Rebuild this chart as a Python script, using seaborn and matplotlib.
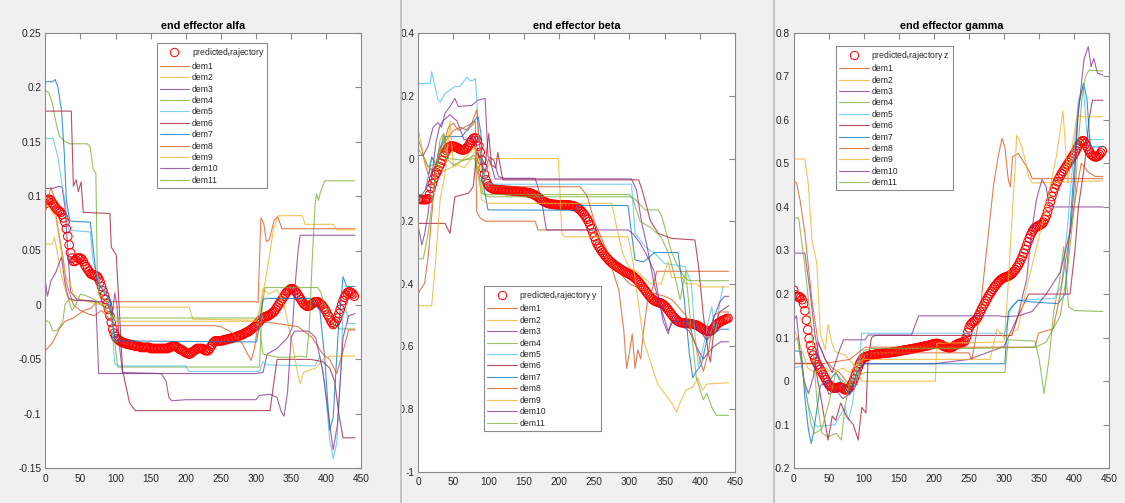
import matplotlib
matplotlib.use("Agg")
import matplotlib.pyplot as plt
from matplotlib.lines import Line2D
from matplotlib.patches import Rectangle
import pandas as pd
import seaborn as sns

# ---------------------------------------------------------------- data
sample_x = list(range(0, 441, 2))

alfa_predicted = [
    0.093, 0.096, 0.097, 0.097, 0.096, 0.094, 0.092, 0.090, 0.088, 0.087,
    0.086, 0.085, 0.083, 0.080, 0.076, 0.070, 0.063, 0.055, 0.048, 0.043,
    0.040, 0.040, 0.041, 0.043, 0.043, 0.043, 0.042, 0.040, 0.037, 0.035,
    0.033, 0.031, 0.029, 0.028, 0.028, 0.027, 0.027, 0.026, 0.024, 0.021,
    0.017, 0.013, 0.009, 0.005, 0.001, -0.004, -0.010, -0.016, -0.022, -0.026,
    -0.029, -0.031, -0.032, -0.033, -0.034, -0.034, -0.035, -0.035, -0.036, -0.036,
    -0.036, -0.037, -0.037, -0.037, -0.038, -0.038, -0.038, -0.038, -0.039, -0.039,
    -0.039, -0.039, -0.039, -0.039, -0.039, -0.040, -0.040, -0.040, -0.040, -0.040,
    -0.040, -0.040, -0.040, -0.040, -0.040, -0.040, -0.040, -0.040, -0.039, -0.039,
    -0.038, -0.038, -0.038, -0.038, -0.039, -0.040, -0.041, -0.041, -0.042, -0.043,
    -0.044, -0.044, -0.045, -0.045, -0.044, -0.043, -0.042, -0.041, -0.040, -0.040,
    -0.040, -0.040, -0.040, -0.041, -0.042, -0.042, -0.042, -0.040, -0.038, -0.036,
    -0.034, -0.033, -0.033, -0.033, -0.033, -0.033, -0.033, -0.032, -0.032, -0.032,
    -0.031, -0.031, -0.031, -0.030, -0.030, -0.030, -0.029, -0.029, -0.028, -0.028,
    -0.027, -0.027, -0.026, -0.025, -0.025, -0.024, -0.023, -0.022, -0.021, -0.020,
    -0.019, -0.017, -0.016, -0.014, -0.013, -0.012, -0.011, -0.011, -0.010, -0.010,
    -0.009, -0.008, -0.007, -0.006, -0.004, -0.002, 0.000, 0.002, 0.004, 0.006,
    0.008, 0.010, 0.012, 0.013, 0.014, 0.015, 0.015, 0.014, 0.013, 0.011,
    0.009, 0.007, 0.005, 0.003, 0.001, 0.000, -0.001, -0.001, -0.001, 0.000,
    0.001, 0.002, 0.003, 0.003, 0.003, 0.002, 0.001, 0.000, -0.002, -0.004,
    -0.006, -0.009, -0.011, -0.014, -0.016, -0.018, -0.017, -0.015, -0.012, -0.008,
    -0.004, 0.000, 0.004, 0.007, 0.009, 0.011, 0.012, 0.012, 0.011, 0.010,
    0.008,
]

beta_predicted = [
    -0.130, -0.130, -0.131, -0.131, -0.131, -0.131, -0.131, -0.128, -0.115, -0.095,
    -0.080, -0.065, -0.052, -0.045, -0.036, -0.025, -0.015, -0.005, 0.008, 0.018,
    0.026, 0.033, 0.038, 0.040, 0.040, 0.039, 0.038, 0.036, 0.034, 0.031,
    0.029, 0.028, 0.027, 0.029, 0.032, 0.037, 0.043, 0.051, 0.058, 0.064,
    0.066, 0.064, 0.057, 0.040, 0.020, -0.005, -0.030, -0.050, -0.068, -0.080,
    -0.088, -0.092, -0.095, -0.097, -0.098, -0.099, -0.099, -0.100, -0.100, -0.101,
    -0.101, -0.101, -0.102, -0.102, -0.102, -0.102, -0.103, -0.103, -0.104, -0.104,
    -0.104, -0.105, -0.105, -0.106, -0.106, -0.107, -0.107, -0.108, -0.109, -0.110,
    -0.111, -0.113, -0.115, -0.117, -0.120, -0.123, -0.127, -0.131, -0.134, -0.137,
    -0.139, -0.141, -0.143, -0.144, -0.145, -0.146, -0.146, -0.147, -0.147, -0.147,
    -0.148, -0.148, -0.148, -0.148, -0.148, -0.148, -0.148, -0.149, -0.149, -0.150,
    -0.151, -0.152, -0.154, -0.157, -0.160, -0.164, -0.169, -0.174, -0.180, -0.187,
    -0.194, -0.202, -0.212, -0.224, -0.237, -0.250, -0.262, -0.272, -0.280, -0.287,
    -0.294, -0.300, -0.306, -0.312, -0.317, -0.322, -0.327, -0.331, -0.335, -0.339,
    -0.342, -0.345, -0.348, -0.351, -0.354, -0.357, -0.360, -0.362, -0.365, -0.367,
    -0.369, -0.372, -0.375, -0.378, -0.382, -0.386, -0.391, -0.396, -0.402, -0.408,
    -0.414, -0.420, -0.426, -0.432, -0.438, -0.443, -0.448, -0.452, -0.455, -0.457,
    -0.458, -0.460, -0.461, -0.463, -0.466, -0.470, -0.475, -0.480, -0.486, -0.492,
    -0.498, -0.504, -0.509, -0.514, -0.518, -0.521, -0.523, -0.524, -0.525, -0.525,
    -0.526, -0.526, -0.527, -0.527, -0.528, -0.529, -0.530, -0.531, -0.533, -0.535,
    -0.538, -0.541, -0.544, -0.547, -0.549, -0.551, -0.552, -0.552, -0.550, -0.546,
    -0.540, -0.535, -0.530, -0.526, -0.523, -0.520, -0.518, -0.516, -0.514, -0.512,
    -0.510,
]

gamma_predicted = [
    0.209, 0.198, 0.194, 0.194, 0.194, 0.192, 0.187, 0.178, 0.162, 0.140,
    0.118, 0.098, 0.082, 0.070, 0.060, 0.051, 0.044, 0.038, 0.032, 0.027,
    0.021, 0.015, 0.009, 0.003, -0.003, -0.008, -0.011, -0.013, -0.015, -0.016,
    -0.016, -0.015, -0.014, -0.013, -0.014, -0.016, -0.019, -0.020, -0.020, -0.018,
    -0.014, -0.009, -0.003, 0.005, 0.014, 0.023, 0.032, 0.040, 0.046, 0.051,
    0.054, 0.056, 0.057, 0.058, 0.059, 0.060, 0.060, 0.061, 0.062, 0.062,
    0.063, 0.063, 0.063, 0.064, 0.064, 0.064, 0.065, 0.065, 0.065, 0.066,
    0.066, 0.067, 0.067, 0.068, 0.068, 0.069, 0.069, 0.070, 0.071, 0.071,
    0.072, 0.072, 0.073, 0.074, 0.074, 0.075, 0.075, 0.076, 0.077, 0.077,
    0.078, 0.079, 0.079, 0.080, 0.081, 0.081, 0.082, 0.083, 0.084, 0.085,
    0.086, 0.086, 0.087, 0.086, 0.085, 0.084, 0.082, 0.080, 0.079, 0.078,
    0.077, 0.077, 0.077, 0.078, 0.080, 0.082, 0.084, 0.086, 0.087, 0.088,
    0.089, 0.090, 0.092, 0.100, 0.112, 0.122, 0.129, 0.133, 0.136, 0.138,
    0.141, 0.146, 0.152, 0.159, 0.166, 0.172, 0.178, 0.184, 0.190, 0.196,
    0.201, 0.206, 0.211, 0.216, 0.220, 0.224, 0.228, 0.231, 0.234, 0.236,
    0.238, 0.239, 0.240, 0.241, 0.243, 0.245, 0.248, 0.252, 0.256, 0.261,
    0.266, 0.272, 0.279, 0.286, 0.294, 0.302, 0.311, 0.320, 0.328, 0.336,
    0.343, 0.348, 0.352, 0.354, 0.356, 0.357, 0.359, 0.361, 0.365, 0.371,
    0.379, 0.389, 0.400, 0.412, 0.424, 0.434, 0.443, 0.451, 0.458, 0.465,
    0.471, 0.477, 0.482, 0.487, 0.492, 0.497, 0.502, 0.507, 0.512, 0.517,
    0.522, 0.528, 0.535, 0.541, 0.546, 0.550, 0.552, 0.551, 0.546, 0.539,
    0.532, 0.526, 0.521, 0.518, 0.516, 0.515, 0.515, 0.517, 0.520, 0.524,
    0.529,
]

# demonstration recordings, (sample, value) vertices
alfa_dem1 = [(0, -0.042), (10, -0.035), (20, -0.022), (28, -0.015), (40, -0.012), (55, -0.005),
             (65, -0.003), (72, 0.002), (80, 0.003), (300, 0.003), (303, 0.002), (307, 0.080),
             (311, 0.075), (315, 0.058), (319, 0.060), (326, 0.078), (331, 0.081), (337, 0.070),
             (441, 0.070)]
alfa_dem2 = [(0, 0.056), (10, 0.056), (13, 0.062), (16, 0.052), (22, 0.030), (30, 0.010),
             (36, 0.004), (60, 0.004), (75, 0.002), (90, -0.001), (100, -0.002), (205, -0.002),
             (210, -0.013), (300, -0.014), (305, -0.010), (310, 0.010), (318, 0.040), (325, 0.070),
             (332, 0.082), (366, 0.082), (370, 0.074), (410, 0.074), (415, 0.069), (441, 0.069)]
alfa_dem3 = [(0, 0.107), (10, 0.107), (20, 0.109), (24, 0.108), (28, 0.090), (32, 0.050),
             (36, 0.012), (45, 0.005), (60, 0.004), (72, 0.003), (76, -0.063), (300, -0.063),
             (310, -0.062), (316, -0.045), (330, -0.040), (345, -0.030), (352, -0.020),
             (356, 0.020), (360, 0.050), (363, 0.064), (441, 0.064)]
alfa_dem4 = [(0, 0.197), (5, 0.195), (10, 0.185), (16, 0.165), (20, 0.155), (28, 0.150),
             (35, 0.148), (60, 0.148), (64, 0.145), (68, 0.125), (72, 0.121), (74, 0.030),
             (76, 0.010), (85, 0.005), (95, -0.005), (100, -0.040), (103, -0.057), (305, -0.057),
             (309, 0.000), (313, 0.016), (388, 0.016), (392, 0.012), (398, 0.000), (405, -0.010),
             (412, -0.020), (420, -0.022), (441, -0.022)]
alfa_dem5 = [(0, 0.153), (11, 0.153), (18, 0.136), (24, 0.110), (28, 0.096), (33, 0.069),
             (45, 0.068), (64, 0.067), (68, 0.040), (78, 0.020), (90, 0.006), (95, -0.020),
             (99, -0.054), (104, -0.056), (200, -0.056), (204, -0.061), (305, -0.061),
             (310, -0.052), (315, -0.055), (384, -0.056), (391, -0.047), (398, -0.072),
             (405, -0.124), (410, -0.141), (415, -0.127), (420, -0.070), (424, -0.008),
             (429, -0.006), (431, -0.017), (441, -0.017)]
alfa_dem6 = [(0, 0.178), (37, 0.178), (40, 0.109), (44, 0.115), (47, 0.104), (51, 0.113),
             (54, 0.085), (92, 0.084), (94, 0.053), (97, 0.050), (101, 0.046), (105, 0.000),
             (110, -0.060), (120, -0.090), (128, -0.097), (320, -0.097), (330, -0.050),
             (378, -0.050), (395, -0.052), (405, -0.058), (412, -0.070), (418, -0.100),
             (424, -0.122), (441, -0.122)]
alfa_dem7 = [(0, 0.205), (10, 0.205), (14, 0.207), (18, 0.200), (23, 0.179), (27, 0.140),
             (30, 0.096), (35, 0.077), (64, 0.076), (66, 0.066), (73, 0.023), (85, 0.010),
             (92, 0.005), (99, -0.032), (102, -0.033), (301, -0.034), (310, 0.005), (315, 0.006),
             (377, 0.006), (391, -0.005), (398, -0.050), (405, -0.115), (410, -0.103),
             (417, -0.026), (424, 0.026), (429, 0.017), (441, 0.017)]
alfa_dem8 = [(0, 0.085), (5, 0.100), (8, 0.108), (12, 0.100), (18, 0.070), (25, 0.045),
             (30, 0.020), (40, 0.000), (50, -0.005), (60, -0.008), (70, -0.010), (80, -0.005),
             (90, -0.012), (100, -0.018), (102, -0.019), (240, -0.019), (250, -0.020),
             (265, -0.025), (280, -0.035), (288, -0.045), (293, -0.051), (298, -0.040),
             (302, -0.020), (305, -0.015), (330, -0.017), (360, -0.020), (380, -0.030),
             (395, -0.045), (405, -0.050), (415, -0.063), (425, -0.040), (432, -0.023),
             (441, -0.023)]
alfa_dem9 = [(0, 0.092), (5, 0.090), (10, 0.085), (15, 0.080), (20, 0.060), (25, 0.040),
             (30, 0.025), (35, 0.020), (40, 0.010), (50, 0.005), (60, 0.003), (80, 0.000),
             (100, -0.015), (300, -0.015), (305, -0.005), (310, 0.015), (318, 0.010),
             (330, 0.014), (340, 0.000), (350, -0.030), (360, -0.065), (363, -0.072),
             (368, -0.062), (375, -0.060), (385, -0.058), (395, -0.050), (405, -0.047),
             (441, -0.047)]
alfa_dem10 = [(0, 0.022), (3, 0.008), (8, 0.022), (15, 0.030), (23, 0.044), (28, 0.020),
              (33, 0.006), (45, 0.004), (60, 0.004), (80, 0.003), (90, 0.000), (95, -0.010),
              (99, 0.011), (102, 0.000), (106, -0.040), (110, -0.062), (165, -0.063),
              (172, -0.070), (176, -0.085), (180, -0.088), (200, -0.087), (300, -0.087),
              (305, -0.083), (320, -0.082), (330, -0.085), (336, -0.098), (340, -0.102),
              (345, -0.080), (350, -0.030), (355, -0.024), (375, -0.024), (385, -0.030),
              (395, -0.060), (405, -0.110), (410, -0.133), (416, -0.110), (424, -0.030),
              (432, -0.010), (441, -0.008)]
alfa_dem11 = [(0, -0.014), (6, -0.016), (11, -0.024), (18, -0.023), (25, -0.015), (28, 0.000),
              (33, 0.005), (38, -0.005), (43, 0.000), (50, 0.010), (60, 0.008), (70, 0.005),
              (80, 0.000), (95, -0.010), (100, -0.012), (300, -0.012), (305, -0.020),
              (310, -0.045), (330, -0.048), (350, -0.048), (365, -0.047), (372, -0.048),
              (376, -0.020), (380, 0.040), (384, 0.090), (386, 0.102), (389, 0.096),
              (392, 0.104), (398, 0.114), (441, 0.114)]

beta_dem1 = [(0, 0.06), (5, 0.03), (10, -0.02), (14, -0.05), (18, -0.03), (22, -0.06), (26, -0.02),
             (32, 0.02), (40, 0.06), (50, 0.09), (60, 0.10), (70, 0.09), (78, 0.11), (81, 0.12),
             (83, -0.17), (88, -0.19), (95, -0.20), (166, -0.20), (170, -0.228), (246, -0.228),
             (255, -0.25), (265, -0.30), (275, -0.35), (285, -0.42), (292, -0.55), (296, -0.67),
             (300, -0.62), (304, -0.56), (308, -0.67), (312, -0.61), (316, -0.64), (320, -0.55),
             (326, -0.45), (332, -0.42), (339, -0.36), (441, -0.36)]
beta_dem2 = [(0, 0.09), (4, 0.05), (8, 0.00), (14, -0.03), (20, 0.00), (28, -0.02), (36, -0.04),
             (45, -0.03), (55, -0.02), (65, -0.03), (75, 0.00), (82, 0.03), (88, -0.03),
             (95, -0.05), (100, -0.02), (104, 0.00), (199, 0.00), (204, -0.24), (208, -0.25),
             (298, -0.25), (305, -0.33), (312, -0.45), (320, -0.58), (330, -0.65), (340, -0.72),
             (350, -0.75), (360, -0.78), (367, -0.81), (372, -0.78), (380, -0.74), (390, -0.73),
             (397, -0.70), (404, -0.74), (410, -0.72), (441, -0.716)]
beta_dem3 = [(0, 0.01), (7, 0.01), (14, 0.04), (21, 0.10), (28, 0.115), (33, 0.10), (38, 0.145),
             (45, 0.166), (52, 0.192), (57, 0.166), (76, 0.17), (85, 0.187), (95, 0.192),
             (99, 0.006), (107, -0.004), (114, -0.058), (123, -0.063), (166, -0.063),
             (171, -0.10), (175, -0.132), (182, -0.228), (298, -0.228), (305, -0.24),
             (315, -0.27), (325, -0.31), (335, -0.36), (342, -0.45), (348, -0.52), (355, -0.56),
             (362, -0.50), (370, -0.53), (385, -0.55), (395, -0.60), (405, -0.64), (412, -0.62),
             (420, -0.60), (430, -0.585), (441, -0.585)]
beta_dem4 = [(0, 0.03), (9, 0.00), (14, -0.026), (28, -0.015), (36, 0.08), (43, 0.00),
             (62, -0.005), (80, 0.00), (90, -0.111), (99, -0.122), (303, -0.122), (308, -0.13),
             (322, -0.164), (341, -0.164), (346, -0.185), (360, -0.30), (368, -0.34),
             (378, -0.38), (385, -0.39), (441, -0.39)]
beta_dem5 = [(0, 0.24), (17, 0.24), (19, 0.277), (28, 0.187), (31, 0.18), (38, 0.208),
             (52, 0.23), (59, 0.23), (69, 0.26), (73, 0.25), (77, 0.248), (81, 0.256),
             (83, 0.198), (85, 0.08), (90, -0.026), (99, -0.079), (109, -0.082), (303, -0.082),
             (308, -0.239), (322, -0.281), (336, -0.303), (350, -0.335), (379, -0.345),
             (388, -0.40), (393, -0.558), (398, -0.665), (405, -0.60), (412, -0.52),
             (417, -0.473), (422, -0.56), (429, -0.452), (433, -0.409)]
beta_dem6 = [(0, -0.207), (38, -0.207), (45, -0.239), (52, -0.122), (71, -0.111), (78, -0.09),
             (83, 0.02), (90, 0.00), (95, -0.02), (100, 0.08), (104, -0.02), (110, -0.03),
             (113, 0.02), (120, -0.068), (313, -0.068), (318, -0.10), (330, -0.20),
             (341, -0.239), (360, -0.255), (393, -0.26), (398, -0.34), (405, -0.50),
             (412, -0.62), (415, -0.65), (420, -0.55), (428, -0.49), (441, -0.47)]
beta_dem7 = [(0, -0.13), (10, -0.10), (15, -0.05), (19, 0.006), (25, -0.02), (30, 0.03),
             (38, 0.07), (62, 0.07), (76, 0.113), (85, 0.134), (89, 0.08), (92, -0.079),
             (99, -0.164), (223, -0.165), (227, -0.15), (298, -0.15), (303, -0.239),
             (308, -0.324), (320, -0.33), (336, -0.30), (369, -0.30), (378, -0.45),
             (385, -0.62), (390, -0.70), (395, -0.68), (402, -0.66), (410, -0.58),
             (418, -0.56), (430, -0.545), (441, -0.545)]
beta_dem8 = [(0, -0.43), (9, -0.398), (14, -0.313), (19, -0.185), (24, -0.058), (28, 0.017),
             (38, 0.06), (43, 0.102), (50, 0.113), (57, 0.09), (66, 0.10), (76, 0.113),
             (83, 0.155), (88, 0.02), (95, -0.08), (105, -0.09), (230, -0.09), (240, -0.12),
             (250, -0.20), (265, -0.28), (280, -0.35), (300, -0.40), (320, -0.42), (335, -0.43),
             (350, -0.44), (360, -0.45), (380, -0.50), (395, -0.60), (405, -0.68), (412, -0.62),
             (420, -0.50), (430, -0.49), (441, -0.49)]
beta_dem9 = [(0, -0.47), (19, -0.47), (24, -0.345), (31, -0.132), (38, -0.047), (45, 0.12),
             (50, -0.026), (57, -0.015), (70, 0.01), (80, 0.038), (85, -0.02), (90, -0.132),
             (99, -0.143), (275, -0.143), (280, -0.20), (290, -0.30), (300, -0.35), (310, -0.36),
             (320, -0.38), (330, -0.40), (345, -0.40), (355, -0.33), (360, -0.38), (375, -0.38),
             (380, -0.40), (395, -0.40), (400, -0.41), (441, -0.41)]
beta_dem10 = [(0, -0.217), (5, -0.276), (9, -0.24), (14, -0.175), (19, -0.06), (25, 0.05),
              (30, 0.10), (35, 0.12), (45, 0.14), (55, 0.12), (65, 0.06), (80, 0.07),
              (88, -0.01), (95, -0.04), (100, 0.00), (105, -0.03), (109, -0.065), (303, -0.065),
              (310, -0.10), (317, -0.20), (325, -0.28), (335, -0.40), (341, -0.452),
              (348, -0.50), (355, -0.55), (362, -0.52), (390, -0.52), (400, -0.55),
              (410, -0.58), (418, -0.52), (428, -0.46), (435, -0.44), (441, -0.44)]
beta_dem11 = [(0, -0.32), (7, -0.32), (14, -0.24), (24, -0.06), (31, 0.06), (36, 0.08),
              (40, 0.00), (50, -0.02), (60, -0.01), (70, 0.00), (80, 0.01), (86, -0.05),
              (92, -0.11), (98, -0.115), (300, -0.115), (305, -0.13), (315, -0.20), (330, -0.22),
              (345, -0.25), (355, -0.30), (365, -0.38), (372, -0.45), (380, -0.36), (388, -0.55),
              (395, -0.70), (405, -0.77), (410, -0.75), (418, -0.80), (424, -0.82), (441, -0.82)]

gamma_dem1 = [(0, 0.46), (4, 0.455), (9, 0.416), (16, 0.339), (26, 0.186), (35, 0.087),
              (45, 0.05), (55, 0.03), (65, 0.02), (75, 0.00), (85, -0.01), (95, 0.03),
              (100, 0.06), (110, 0.065), (250, 0.065), (254, 0.049), (265, 0.15), (275, 0.30),
              (285, 0.45), (292, 0.52), (297, 0.557), (301, 0.538), (306, 0.462), (309, 0.446),
              (312, 0.515), (320, 0.523), (335, 0.485), (340, 0.465), (441, 0.465)]
gamma_dem2 = [(0, 0.51), (16, 0.51), (21, 0.45), (26, 0.324), (33, 0.27), (38, 0.109),
              (45, 0.072), (49, 0.13), (54, 0.09), (59, 0.068), (73, 0.06), (90, 0.03),
              (97, 0.00), (202, 0.00), (204, 0.087), (300, 0.09), (305, 0.20), (310, 0.34),
              (316, 0.50), (318, 0.565), (325, 0.54), (330, 0.508), (335, 0.47), (340, 0.455),
              (441, 0.46)]
gamma_dem3 = [(0, 0.294), (16, 0.294), (23, 0.209), (30, 0.11), (40, 0.02), (50, -0.03),
              (60, -0.02), (70, -0.04), (80, -0.03), (90, 0.02), (100, 0.04), (200, 0.04),
              (250, 0.05), (300, 0.08), (320, 0.15), (327, 0.20), (332, 0.232), (339, 0.34),
              (346, 0.416), (354, 0.463), (360, 0.446), (365, 0.40), (441, 0.40)]
gamma_dem4 = [(0, 0.375), (7, 0.375), (16, 0.263), (26, 0.11), (33, -0.043), (40, -0.119),
              (49, -0.127), (61, -0.12), (68, -0.135), (73, -0.06), (80, 0.00), (90, 0.01),
              (102, 0.02), (301, 0.02), (306, 0.095), (344, 0.092), (350, 0.05), (357, -0.028),
              (364, 0.05), (371, 0.163), (378, 0.22), (385, 0.309), (392, 0.171), (400, 0.162),
              (441, 0.16)]
gamma_dem5 = [(0, 0.03), (11, 0.035), (20, -0.05), (26, -0.081), (30, -0.10), (35, -0.104),
              (59, -0.10), (73, -0.058), (78, -0.089), (83, -0.058), (90, 0.02), (95, 0.07),
              (97, 0.11), (301, 0.11), (310, 0.171), (320, 0.186), (372, 0.19), (382, 0.22),
              (390, 0.35), (398, 0.50), (406, 0.645), (413, 0.676), (418, 0.569), (423, 0.554),
              (441, 0.555)]
gamma_dem6 = [(0, 0.041), (30, 0.041), (40, -0.05), (49, -0.135), (55, -0.08), (60, -0.09),
              (67, -0.05), (75, -0.08), (85, -0.10), (92, -0.135), (97, -0.06), (103, -0.073),
              (106, 0.05), (111, 0.10), (116, 0.105), (311, 0.105), (320, 0.15), (335, 0.20),
              (394, 0.20), (401, 0.30), (406, 0.40), (415, 0.50), (421, 0.60), (426, 0.645),
              (441, 0.645)]
gamma_dem7 = [(0, 0.07), (11, 0.068), (16, -0.04), (21, -0.112), (25, -0.143), (28, -0.12),
              (38, -0.01), (50, 0.00), (60, 0.02), (70, -0.01), (80, -0.03), (90, 0.02),
              (100, 0.04), (301, 0.04), (306, 0.16), (320, 0.186), (339, 0.182), (377, 0.178),
              (387, 0.20), (396, 0.40), (406, 0.63), (413, 0.684), (418, 0.65), (423, 0.538),
              (441, 0.538)]
gamma_dem8 = [(0, 0.04), (40, 0.04), (60, 0.045), (80, 0.05), (102, 0.078), (344, 0.078),
              (349, 0.11), (356, 0.114), (370, 0.12), (380, 0.20), (390, 0.30), (400, 0.40),
              (404, 0.446), (410, 0.50), (420, 0.48), (430, 0.47), (441, 0.47)]
gamma_dem9 = [(0, 0.12), (6, 0.10), (12, 0.07), (20, 0.03), (30, 0.02), (45, 0.03), (55, 0.02),
              (70, 0.03), (80, 0.02), (90, 0.04), (100, 0.05), (280, 0.05), (290, 0.12),
              (300, 0.10), (320, 0.12), (330, 0.20), (345, 0.30), (360, 0.40), (375, 0.52),
              (384, 0.62), (391, 0.454), (398, 0.55), (404, 0.61), (412, 0.607), (441, 0.607)]
gamma_dem10 = [(0, 0.14), (4, 0.15), (9, 0.07), (15, 0.00), (21, -0.028), (28, 0.01),
               (35, 0.09), (45, 0.05), (55, 0.02), (65, 0.07), (71, 0.095), (102, 0.095),
               (106, 0.106), (168, 0.106), (178, 0.15), (292, 0.15), (300, 0.148), (320, 0.15),
               (340, 0.16), (360, 0.20), (380, 0.25), (395, 0.35), (400, 0.45), (405, 0.60),
               (410, 0.68), (414, 0.74), (420, 0.768), (424, 0.722), (428, 0.741), (433, 0.707),
               (441, 0.703)]
gamma_dem11 = [(0, 0.09), (5, 0.10), (10, 0.05), (15, 0.00), (20, -0.05), (25, -0.10),
               (30, -0.12), (40, -0.11), (50, -0.05), (60, 0.02), (70, 0.00), (80, -0.01),
               (90, 0.03), (100, 0.07), (110, 0.075), (250, 0.075), (345, 0.078), (360, 0.09),
               (380, 0.15), (390, 0.25), (400, 0.40), (406, 0.55), (411, 0.65), (416, 0.70),
               (421, 0.714), (441, 0.712)]

dem_names = [f"dem{i}" for i in range(1, 12)]
dem_colors = ["#D95319", "#EDB120", "#7E2F8E", "#77AC30", "#4DBEEE", "#A2142F",
              "#0072BD", "#D95319", "#EDB120", "#7E2F8E", "#77AC30"]

x_ticks = [0, 50, 100, 150, 200, 250, 300, 350, 400, 450]
alfa_yticks = [-0.15, -0.1, -0.05, 0, 0.05, 0.1, 0.15, 0.2, 0.25]
beta_yticks = [-1, -0.8, -0.6, -0.4, -0.2, 0, 0.2, 0.4]
gamma_yticks = [-0.2, -0.1, 0, 0.1, 0.2, 0.3, 0.4, 0.5, 0.6, 0.7, 0.8]

panels = [
    dict(title="end effector alfa", pred=alfa_predicted,
         dems=[alfa_dem1, alfa_dem2, alfa_dem3, alfa_dem4, alfa_dem5, alfa_dem6,
               alfa_dem7, alfa_dem8, alfa_dem9, alfa_dem10, alfa_dem11],
         pred_label=r"predicted$_{\mathregular{t}}$rajectory",
         yticks=alfa_yticks, ylim=(-0.15, 0.25),
         rect=(45.3, 32.7, 361.3, 468.3), legend_at=(156.7, 43.3)),
    dict(title="end effector beta", pred=beta_predicted,
         dems=[beta_dem1, beta_dem2, beta_dem3, beta_dem4, beta_dem5, beta_dem6,
               beta_dem7, beta_dem8, beta_dem9, beta_dem10, beta_dem11],
         pred_label=r"predicted$_{\mathregular{t}}$rajectory y",
         yticks=beta_yticks, ylim=(-1, 0.4),
         rect=(418.3, 33.3, 735.0, 471.7), legend_at=(484.3, 286.0)),
    dict(title="end effector gamma", pred=gamma_predicted,
         dems=[gamma_dem1, gamma_dem2, gamma_dem3, gamma_dem4, gamma_dem5, gamma_dem6,
               gamma_dem7, gamma_dem8, gamma_dem9, gamma_dem10, gamma_dem11],
         pred_label=r"predicted$_{\mathregular{t}}$rajectory z",
         yticks=gamma_yticks, ylim=(-0.2, 0.8),
         rect=(793.7, 32.7, 1109.3, 468.3), legend_at=(836.3, 45.7)),
]

# ---------------------------------------------------------------- style
sns.set_theme(style="white")
plt.rcParams["font.family"] = ["Liberation Sans", "DejaVu Sans"]
plt.rcParams["mathtext.fontset"] = "custom"
plt.rcParams["mathtext.rm"] = "Liberation Sans"
plt.rcParams["mathtext.it"] = "Liberation Sans"

W, H = 1125, 503
fig = plt.figure(figsize=(W / 100, H / 100), dpi=100, facecolor="#f0f0f0")

axis_grey = "#8a8a8a"
palette = dict(zip(dem_names, dem_colors))


def fmt(v):
    return f"{v:g}"


for p in panels:
    x0, y0, x1, y1 = p["rect"]
    ax = fig.add_axes([x0 / W, 1 - y1 / H, (x1 - x0) / W, (y1 - y0) / H])
    ax.set_facecolor("white")

    # predicted trajectory: open red circles
    sns.scatterplot(x=sample_x, y=p["pred"], ax=ax, marker="o", s=38,
                    linewidth=0.75, legend=False, zorder=1.5)
    coll = ax.collections[-1]
    coll.set_facecolor("none")
    coll.set_edgecolor("#ff0000")

    # demonstrations
    rows = []
    for name, verts in zip(dem_names, p["dems"]):
        for i, (xv, yv) in enumerate(verts):
            rows.append((name, i, xv, yv))
    df = pd.DataFrame(rows, columns=["series", "order", "x", "y"])
    sns.lineplot(data=df, x="x", y="y", hue="series", hue_order=dem_names,
                 palette=palette, estimator=None, sort=False, legend=False,
                 linewidth=0.8, alpha=0.75, ax=ax, zorder=2)

    ax.set_xlim(0, 450)
    ax.set_ylim(*p["ylim"])
    ax.set_xticks(x_ticks)
    ax.set_xticklabels([fmt(v) for v in x_ticks])
    ax.set_yticks(p["yticks"])
    ax.set_yticklabels([fmt(v) for v in p["yticks"]])
    ax.set_xlabel("")
    ax.set_ylabel("")
    ax.tick_params(direction="in", length=4, width=0.8, top=True, right=True,
                   color=axis_grey, labelcolor="#262626", labelsize=7.3)
    ax.tick_params(axis="x", pad=4)
    ax.tick_params(axis="y", pad=3)
    for sp in ax.spines.values():
        sp.set_color(axis_grey)
        sp.set_linewidth(0.8)
    ax.set_title(p["title"], fontsize=7.8, fontweight="bold", pad=3, color="black")

    handles = [Line2D([], [], marker="o", ls="none", mfc="none", mec="#ff0000",
                      ms=6, mew=0.7)]
    handles += [Line2D([], [], color=c, lw=0.8, alpha=0.75) for c in dem_colors]
    labels = [p["pred_label"]] + dem_names
    lx, ly = p["legend_at"]
    leg = ax.legend(handles, labels, loc="upper left",
                    bbox_to_anchor=(lx / W, 1 - ly / H), bbox_transform=fig.transFigure,
                    borderaxespad=0, fontsize=6.2, frameon=True, fancybox=False,
                    edgecolor=axis_grey, framealpha=1, facecolor="white",
                    handlelength=3.4, handletextpad=0.3, labelspacing=0.28,
                    borderpad=0.35, numpoints=1)
    leg.get_frame().set_linewidth(0.8)

# window separators between the three plots
for xa, xb, col in [(392, 400, "#f0f0f0"), (400, 402, "#c4c4c4"),
                    (765, 773, "#f0f0f0"), (773, 775, "#c4c4c4"),
                    (1117, 1125, "#f0f0f0")]:
    fig.add_artist(Rectangle((xa / W, 0), (xb - xa) / W, 1, transform=fig.transFigure,
                             facecolor=col, edgecolor="none", zorder=10))

fig.savefig("out.png", dpi=100, facecolor=fig.get_facecolor())
